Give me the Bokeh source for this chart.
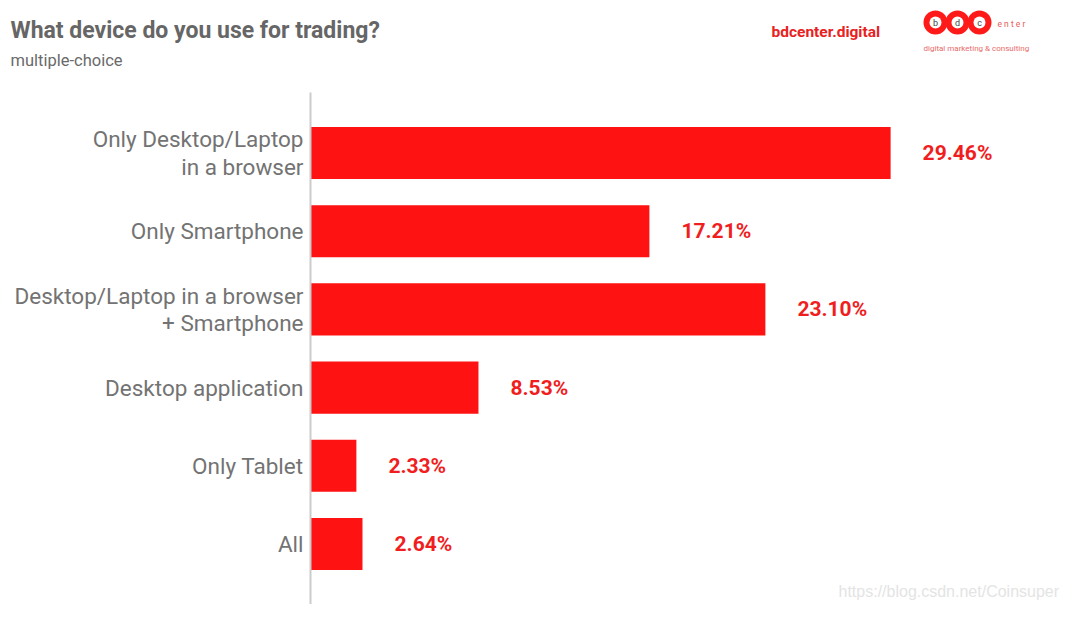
from bokeh.plotting import figure
from bokeh.models import ColumnDataSource, Range1d, FactorRange, Label
from bokeh.layouts import column
from bokeh.embed import file_html
from bokeh.resources import INLINE
from bokeh.core.properties import value

categories = [
    "Only Desktop/Laptop\nin a browser",
    "Only Smartphone",
    "Desktop/Laptop in a browser\n+ Smartphone",
    "Desktop application",
    "Only Tablet",
    "All",
]
shares = [29.46, 17.21, 23.10, 8.53, 2.33, 2.64]
share_labels = ["%.2f%%" % v for v in shares]

TITLE = "What device do you use for trading?"
SUBTITLE = "multiple-choice"
BRAND = "bdcenter.digital"
LOGO_LETTERS = ["b", "d", "c"]
LOGO_TAIL = "e n t e r"
LOGO_TAGLINE = "digital marketing & consulting"
WATERMARK = "https://blog.csdn.net/Coinsuper"

RED = "#ff1212"
LABEL_RED = "#f01e1e"
GRAY = "#737373"
FONT = "Roboto"

W = 1064
HEAD_H = 92
MAIN_H = 512

# ---------------- header strip (title, subtitle, brand, logo) ----------------
h = figure(width=W, height=HEAD_H, x_range=Range1d(0, W), y_range=Range1d(HEAD_H, 0),
           output_backend="svg", toolbar_location=None,
           min_border=0, min_border_left=0, min_border_right=0,
           min_border_top=0, min_border_bottom=0)
h.frame_align = False
h.axis.visible = False
h.grid.visible = False
h.outline_line_color = None

h.text(x=[10], y=[30], text=[TITLE], text_font=value(FONT), text_font_style="bold",
       text_font_size="23px", text_color="#666666", text_baseline="middle")
h.text(x=[10], y=[60], text=[SUBTITLE], text_font=value(FONT),
       text_font_size="16.5px", text_color="#6a6a6a", text_baseline="middle")
h.text(x=[771], y=[31], text=[BRAND], text_font=value(FONT), text_font_style="bold",
       text_font_size="15.5px", text_color="#e82222", text_baseline="middle")

logo_x = [935, 957, 979]
logo_y = [22, 22, 22]
h.scatter(x=logo_x, y=logo_y, marker="circle", size=24, fill_color="#ff1a1a", line_color=None)
h.scatter(x=logo_x, y=logo_y, marker="circle", size=12, fill_color="white", line_color=None)
h.text(x=logo_x, y=logo_y, text=LOGO_LETTERS, text_font=value(FONT),
       text_font_size="9px", text_color="#444444", text_align="center", text_baseline="middle")
h.text(x=[997], y=[23], text=[LOGO_TAIL], text_font=value(FONT),
       text_font_size="8.5px", text_color="#e85a5a", text_baseline="middle")
h.text(x=[923], y=[48], text=[LOGO_TAGLINE], text_font=value(FONT),
       text_font_size="8px", text_color="#e86a6a", text_baseline="middle")

# ---------------- main bar chart ----------------
src = ColumnDataSource(dict(cat=categories, val=shares, lab=share_labels))

p = figure(
    width=W, height=MAIN_H,
    y_range=FactorRange(factors=list(reversed(categories)), range_padding=0.0915),
    x_range=Range1d(0, 38.29),
    output_backend="svg", toolbar_location=None,
    min_border_left=310, min_border_top=0, min_border_bottom=0, min_border_right=0,
)
p.frame_align = False
p.outline_line_color = None
p.grid.visible = False
p.xaxis.visible = False

p.hbar(y="cat", right="val", left=0, height=0.667, source=src,
       fill_color=RED, line_color=None)
p.text(x="val", y="cat", text="lab", source=src, x_offset=32,
       text_align="left", text_baseline="middle",
       text_font=value(FONT), text_font_style="bold",
       text_font_size="21px", text_color=LABEL_RED)

ya = p.yaxis[0]
ya.axis_line_color = "#cccccc"
ya.axis_line_width = 2
ya.major_tick_line_color = None
ya.minor_tick_line_color = None
ya.major_tick_out = 0
ya.major_tick_in = 0
ya.major_label_standoff = 7
ya.major_label_text_font = FONT
ya.major_label_text_font_size = "22.5px"
ya.major_label_text_line_height = 1.05
ya.major_label_text_color = GRAY

p.add_layout(Label(x=528, y=5, x_units="screen", y_units="screen", text=WATERMARK,
                   text_font="Liberation Sans", text_font_size="16px",
                   text_color="#e4e4e4", text_baseline="bottom"))

open("out.html", "w").write(file_html(column(h, p, spacing=0), INLINE))
